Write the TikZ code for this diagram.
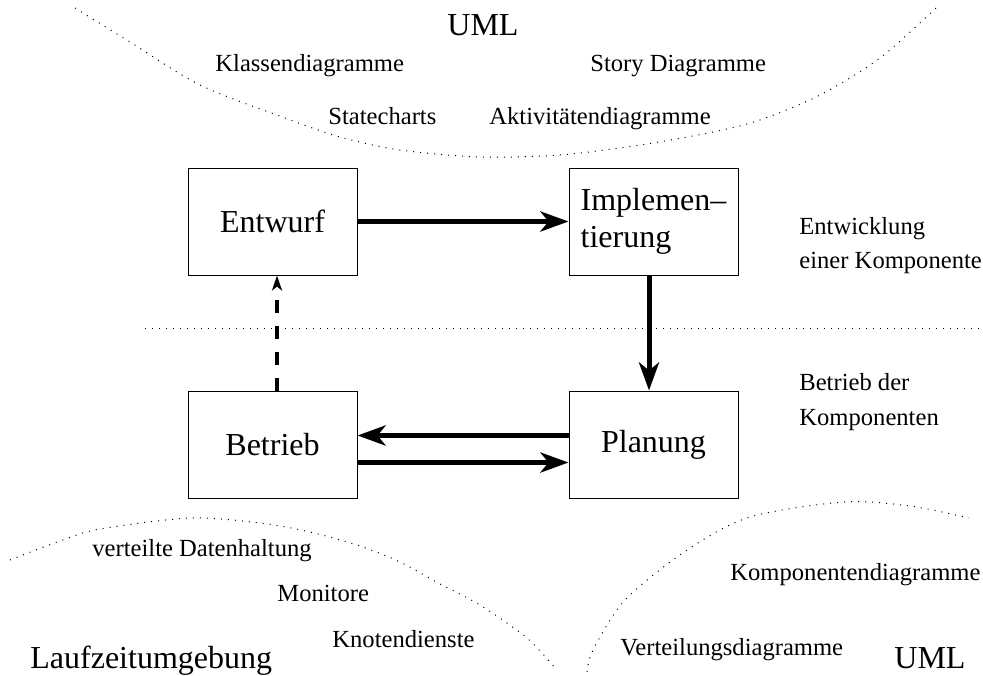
\documentclass[tikz,border=0pt]{standalone}
\usepackage{fontspec}
\setmainfont{Liberation Serif}
\usetikzlibrary{arrows.meta,positioning}

\tikzset{
  box/.style={draw,line width=0.5pt,minimum width=84.5pt,minimum height=53.5pt,
    inner sep=0pt,font=\fontsize{16}{18.5}\selectfont},
  big/.style={font=\fontsize{16}{18}\selectfont,inner sep=0pt,anchor=base west},
  small/.style={font=\fontsize{12.3}{18}\selectfont,inner sep=0pt,anchor=base west},
  flow/.style={line width=2.5pt,-{Stealth[length=14pt,width=10pt,inset=4pt]}},
  back/.style={line width=2pt,dash pattern=on 6.5pt off 6.5pt,
    -{Stealth[length=7.5pt,width=5pt,inset=2pt]}},
  border/.style={line width=0.5pt,dash pattern=on 0.5pt off 3pt}
}

\begin{document}
\begin{tikzpicture}[x=0.5pt,y=-0.5pt]
\useasboundingbox (0,0) rectangle (983,675);

% Kasten
\node[box] (entwurf) at (272.5,221.5) {Entwurf};
\node[box,right=105.5pt of entwurf,align=left] (impl) {Implemen--\\tierung};
\node[box,below=57.5pt of entwurf] (betrieb) {Betrieb};
\node[box,below=57.5pt of impl] (planung) {Planung};

% Pfeile
\draw[flow] (entwurf) -- (impl);
\draw[flow] ([xshift=-2.25pt]impl.south) -- ([xshift=-2.25pt]planung.north);
\draw[flow] ([yshift=4.5pt]planung.west) -- ([yshift=4.5pt]betrieb.east);
\draw[flow] ([yshift=-9pt]betrieb.east) -- ([yshift=-9pt]planung.west);
\draw[back] ([xshift=2.25pt]betrieb.north) -- ([xshift=2.25pt]entwurf.south);

% Trennlinie und Boegen
\draw[border] (145,328) -- (983,328);
\draw[border] plot[smooth] coordinates {(75,8) (130,42) (200,85) (285,118) (340,137)
  (400,150) (480,157) (560,155) (640,145) (713,132) (760,120) (820,95) (880,58) (936,8)};
\draw[border] plot[smooth] coordinates {(10,560) (60,541) (100,529) (190,518) (260,523)
  (310,532) (360,546) (400,562) (440,584) (480,605) (527,638) (555,668)};
\draw[border] plot[smooth] coordinates {(587,672) (593,650) (625,600) (687,550)
  (750,517) (844,502) (910,506) (969,518)};

% UML oben
\node[big] (umloben) at (447,35) {UML};
\node[small] (klassen) at (215,71) {Klassendiagramme};
\node[small] (story) at (590,71) {Story Diagramme};
\node[small] (state) at (328,124) {Statecharts};
\node[small] (aktiv) at (489,124) {Aktivitätendiagramme};

% rechts
\node[small] (entw1) at (799,234) {Entwicklung};
\node[small] (entw2) at (799,268) {einer Komponente};
\node[small] (betr1) at (799,390) {Betrieb der};
\node[small] (betr2) at (799,425) {Komponenten};

% unten
\node[small] (verteilt) at (92,556) {verteilte Datenhaltung};
\node[small] (monitore) at (277,601) {Monitore};
\node[small] (knoten) at (332,647) {Knotendienste};
\node[big] (laufzeit) at (30,668) {Laufzeitumgebung};
\node[small] (kompdiag) at (730,580) {Komponentendiagramme};
\node[small] (vertdiag) at (620,655) {Verteilungsdiagramme};
\node[big] (umlunten) at (894,668) {UML};
\end{tikzpicture}
\end{document}
